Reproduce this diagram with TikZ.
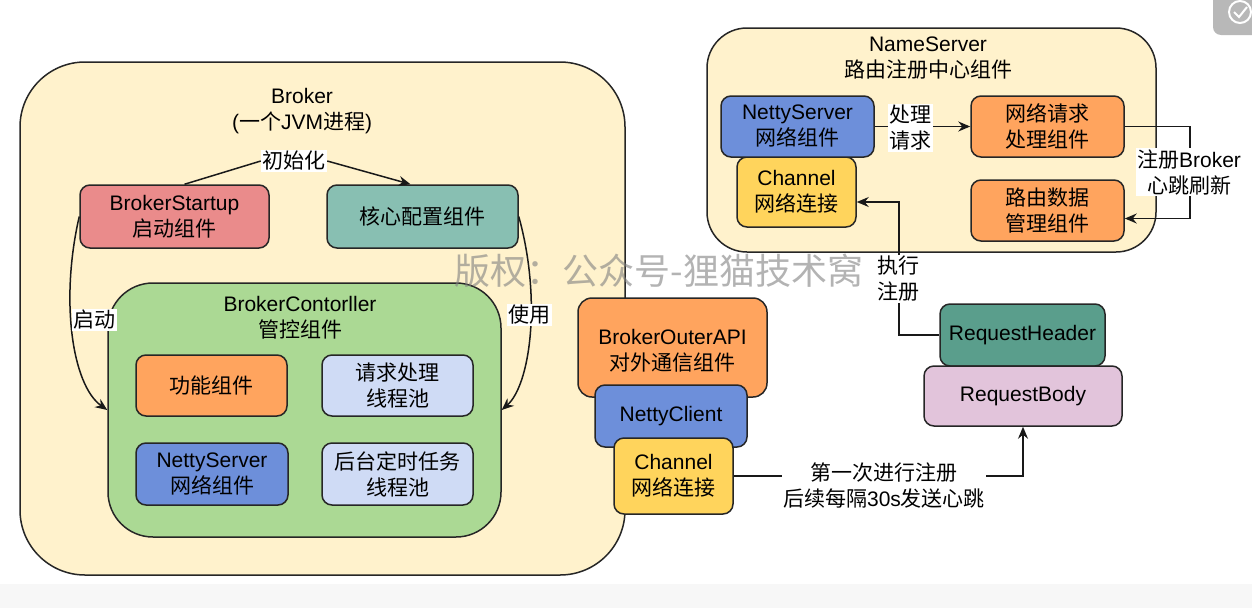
\documentclass[tikz,border=0pt]{standalone}
\usepackage{fontspec}
\setmainfont{Liberation Sans}
\newfontfamily\cjk{Noto Sans CJK SC}
\usetikzlibrary{arrows.meta}
\definecolor{cream}{HTML}{FFF2CC}
\definecolor{redbox}{HTML}{EA8B8B}
\definecolor{tealbox}{HTML}{88BFB2}
\definecolor{greenbox}{HTML}{ABD994}
\definecolor{orangebox}{HTML}{FFA45E}
\definecolor{lightblue}{HTML}{CFDBF5}
\definecolor{bluebox}{HTML}{6D8FDA}
\definecolor{yellowbox}{HTML}{FFD45C}
\definecolor{darkteal}{HTML}{5A9E8C}
\definecolor{pinkbox}{HTML}{E2C4DB}
\newcommand\dfont{\fontsize{21}{26}\selectfont}
\tikzset{
  box/.style={draw=black!85, line width=1.5pt, rounded corners=10pt, align=center, inner sep=0pt, font=\dfont},
  bigbox/.style={draw=black!85, line width=1.5pt, inner sep=0pt},
  title/.style={align=center, inner sep=0pt, font=\dfont},
  lbl/.style={fill=white, inner sep=1.5pt, align=center, font=\dfont},
  conn/.style={line width=1.5pt, draw=black!90},
  arr/.style={conn, -{Stealth[length=12pt,width=10pt,inset=4pt]}},
}
\begin{document}
\begin{tikzpicture}[x=1pt,y=-1pt]
\useasboundingbox (0,0) rectangle (1252,608);
\clip (0,0) rectangle (1252,608);
\fill[black!3] (0,584) rectangle (1252,608);
% top-right icon
\fill[black!28, rounded corners=8pt] (1213,-12) rectangle (1275,35);
\draw[white, line width=2pt] (1240,12) circle (11pt);
\draw[white, line width=2pt] (1234,12) -- (1239,17) -- (1247,7);

% big containers
\node[bigbox, fill=cream, rounded corners=65pt, minimum width=605pt, minimum height=513pt] (broker) at (322.5,318.5) {};
\node[title] (brokertitle) at (302,111) {Broker\\({\cjk 一个}JVM{\cjk 进程})};
\node[bigbox, fill=cream, rounded corners=40pt, minimum width=449pt, minimum height=224pt] (ns) at (931.5,140) {};
\node[title] (nstitle) at (928,58) {NameServer\\{\cjk 路由注册中心组件}};

% Broker inner
\node[box, fill=redbox, minimum width=189pt, minimum height=63pt] (bs) at (174.5,216.5) {BrokerStartup\\{\cjk 启动组件}};
\node[box, fill=tealbox, minimum width=191pt, minimum height=63pt] (core) at (422.5,216.5) {{\cjk 核心配置组件}};
\node[bigbox, fill=greenbox, rounded corners=45pt, minimum width=393pt, minimum height=254pt] (ctl) at (304.5,410) {};
\node[title] (ctltitle) at (300,318) {BrokerContorller\\{\cjk 管控组件}};
\node[box, fill=orangebox, minimum width=151pt, minimum height=61pt] (func) at (211.5,385.5) {{\cjk 功能组件}};
\node[box, fill=lightblue, minimum width=151pt, minimum height=61pt] (reqpool) at (397.5,385.5) {{\cjk 请求处理}\\{\cjk 线程池}};
\node[box, fill=bluebox, minimum width=152pt, minimum height=62pt] (nsrv) at (212,474) {NettyServer\\{\cjk 网络组件}};
\node[box, fill=lightblue, minimum width=151pt, minimum height=62pt] (bgpool) at (397.5,474) {{\cjk 后台定时任务}\\{\cjk 线程池}};

% outer API stack
\node[box, fill=orangebox, rounded corners=14pt, minimum width=189pt, minimum height=99pt] (outer) at (672.5,347.5) {};
\node[title] (outertext) at (672.5,351) {BrokerOuterAPI\\{\cjk 对外通信组件}};
\node[box, fill=bluebox, minimum width=152pt, minimum height=62pt] (nclient) at (671,416) {NettyClient};
\node[box, fill=yellowbox, minimum width=119pt, minimum height=76pt] (chan2) at (673.5,476) {Channel\\{\cjk 网络连接}};

% NameServer inner
\node[box, fill=yellowbox, minimum width=119pt, minimum height=70pt] (nschan) at (796.5,192) {Channel\\{\cjk 网络连接}};
\node[box, fill=bluebox, minimum width=153pt, minimum height=61pt] (nsnetty) at (797.5,126.5) {NettyServer\\{\cjk 网络组件}};
\node[box, fill=orangebox, minimum width=153pt, minimum height=61pt] (nsreq) at (1047.5,126.5) {{\cjk 网络请求}\\{\cjk 处理组件}};
\node[box, fill=orangebox, minimum width=153pt, minimum height=61pt] (nsroute) at (1047.5,210.5) {{\cjk 路由数据}\\{\cjk 管理组件}};

% request
\node[box, fill=darkteal, minimum width=165pt, minimum height=62pt] (rh) at (1022.5,335) {RequestHeader};
\node[box, fill=pinkbox, minimum width=198pt, minimum height=60pt] (rb) at (1023,396) {RequestBody};

% connectors
\node[lbl] (init) at (294,161) {{\cjk 初始化}};
\draw[conn] ([xshift=10pt]bs.north) -- (init.west);
\draw[arr] (init.east) -- ([xshift=-12pt]core.north);
\draw[arr] (bs.west) .. controls (60,300) and (72,385) .. (ctl.west);
\draw[arr] (core.east) .. controls (542,300) and (530,385) .. (ctl.east);
\node[lbl] (qd) at (94,320) {{\cjk 启动}};
\node[lbl] (sy) at (529,315) {{\cjk 使用}};

\draw[arr] (nsnetty.east) -- (nsreq.west);
\node[lbl] (proc) at (910,128) {{\cjk 处理}\\{\cjk 请求}};
\draw[arr] (nsreq.east) -- ++(65,0) |- ([yshift=-8pt]nsroute.east);
\node[lbl] (reg) at (1189,172) {{\cjk 注册}Broker\\{\cjk 心跳刷新}};
\draw[arr] (rh.west) -| ([xshift=42pt,yshift=-10pt]nschan.east) -- ([yshift=-10pt]nschan.east);
\node[lbl] (exec) at (898,279) {{\cjk 执行}\\{\cjk 注册}};
\draw[arr] (chan2.east) -| (rb.south);
\node[lbl] (first) at (884,485) {{\cjk 第一次进行注册}\\{\cjk 后续每隔}30s{\cjk 发送心跳}};

% watermark
\node[text=black!50, opacity=0.6, inner sep=0pt, font={\fontsize{36}{40}\selectfont\cjk}] (wm) at (659,271) {版权：公众号-狸猫技术窝};
\end{tikzpicture}
\end{document}
